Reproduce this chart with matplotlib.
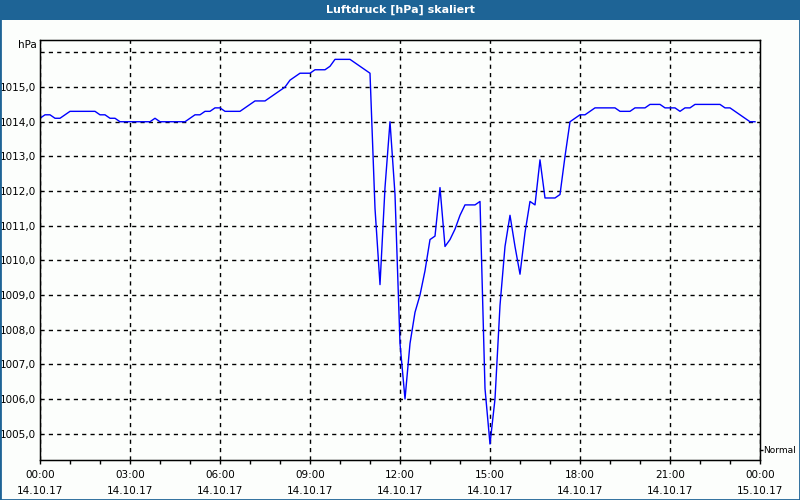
import numpy as np
import matplotlib
matplotlib.use("Agg")
import matplotlib.pyplot as plt
from matplotlib.patches import Rectangle

# Luftdruck alle 10 Minuten, 14.10.17 00:00 bis 23:50
druck = [1014.1, 1014.2, 1014.2, 1014.1, 1014.1, 1014.2, 1014.3, 1014.3, 1014.3, 1014.3,
         1014.3, 1014.3, 1014.2, 1014.2, 1014.1, 1014.1, 1014.0, 1014.0, 1014.0, 1014.0,
         1014.0, 1014.0, 1014.0, 1014.1, 1014.0, 1014.0, 1014.0, 1014.0, 1014.0, 1014.0,
         1014.1, 1014.2, 1014.2, 1014.3, 1014.3, 1014.4, 1014.4, 1014.3, 1014.3, 1014.3,
         1014.3, 1014.4, 1014.5, 1014.6, 1014.6, 1014.6, 1014.7, 1014.8, 1014.9, 1015.0,
         1015.2, 1015.3, 1015.4, 1015.4, 1015.4, 1015.5, 1015.5, 1015.5, 1015.6, 1015.8,
         1015.8, 1015.8, 1015.8, 1015.7, 1015.6, 1015.5, 1015.4, 1011.5, 1009.3, 1012.1,
         1014.0, 1011.9, 1007.6, 1006.0, 1007.6, 1008.5, 1009.0, 1009.7, 1010.6, 1010.7,
         1012.1, 1010.4, 1010.6, 1010.9, 1011.3, 1011.6, 1011.6, 1011.6, 1011.7, 1006.3,
         1004.7, 1006.0, 1008.7, 1010.4, 1011.3, 1010.4, 1009.6, 1010.8, 1011.7, 1011.6,
         1012.9, 1011.8, 1011.8, 1011.8, 1011.9, 1013.0, 1014.0, 1014.1, 1014.2, 1014.2,
         1014.3, 1014.4, 1014.4, 1014.4, 1014.4, 1014.4, 1014.3, 1014.3, 1014.3, 1014.4,
         1014.4, 1014.4, 1014.5, 1014.5, 1014.5, 1014.4, 1014.4, 1014.4, 1014.3, 1014.4,
         1014.4, 1014.5, 1014.5, 1014.5, 1014.5, 1014.5, 1014.5, 1014.4, 1014.4, 1014.3,
         1014.2, 1014.1, 1014.0, 1014.0]
stunden = np.arange(len(druck)) / 6.0

x_ticks = [0, 3, 6, 9, 12, 15, 18, 21, 24]
x_labels = ["00:00\n14.10.17", "03:00\n14.10.17", "06:00\n14.10.17", "09:00\n14.10.17",
            "12:00\n14.10.17", "15:00\n14.10.17", "18:00\n14.10.17", "21:00\n14.10.17",
            "00:00\n15.10.17"]
y_ticks = [1005, 1006, 1007, 1008, 1009, 1010, 1011, 1012, 1013, 1014, 1015]
normal = 1004.53

blau = "#1e6496"
plt.rcParams["font.family"] = ["DejaVu Sans"]

fig = plt.figure(figsize=(8, 5), dpi=100, facecolor="#fcfefc")
ax = fig.add_axes([0.05, 0.0794, 0.90, 0.84])
ax.set_facecolor("#fcfefc")

ax.plot(stunden, druck, color="#0000ff", linewidth=1)

ax.set_xlim(0, 24)
ax.set_ylim(1004.23, 1016.35)
ax.set_xticks(x_ticks)
ax.set_xticklabels(x_labels, fontsize=7.5, linespacing=1.75)
ax.set_xticks(range(25), minor=True)
ax.set_yticks(y_ticks + [1016])
ax.set_yticklabels(["%d,0" % v for v in y_ticks] + [""], fontsize=7.5)
ax.tick_params(axis="x", which="both", direction="out", length=3, width=1, pad=4)
ax.tick_params(axis="y", length=0, pad=3)
ax.grid(True, which="major", color="black", linestyle=(0, (3, 3)), linewidth=1)
for s in ax.spines.values():
    s.set_linewidth(1)

ax.text(-0.004, 1.0, "hPa", transform=ax.transAxes, ha="right", va="top", fontsize=7.5)

ax2 = ax.twinx()
ax2.set_ylim(ax.get_ylim())
ax2.set_yticks([normal])
ax2.set_yticklabels(["Normal"], fontsize=6.5)
ax2.tick_params(axis="y", length=2, width=1, pad=0.5)

# Titelleiste und Rahmen
fig.patches.append(Rectangle((0, 0.96), 1, 0.04, transform=fig.transFigure,
                             facecolor=blau, edgecolor="none", zorder=0))
fig.text(0.5, 0.98, "Luftdruck [hPa] skaliert", color="white", fontsize=8,
         fontweight="bold", ha="center", va="center")
fig.patches.append(Rectangle((0, 0), 1, 1, transform=fig.transFigure,
                             facecolor="none", edgecolor=blau, linewidth=2))

fig.savefig("out.png", dpi=100, facecolor=fig.get_facecolor())
